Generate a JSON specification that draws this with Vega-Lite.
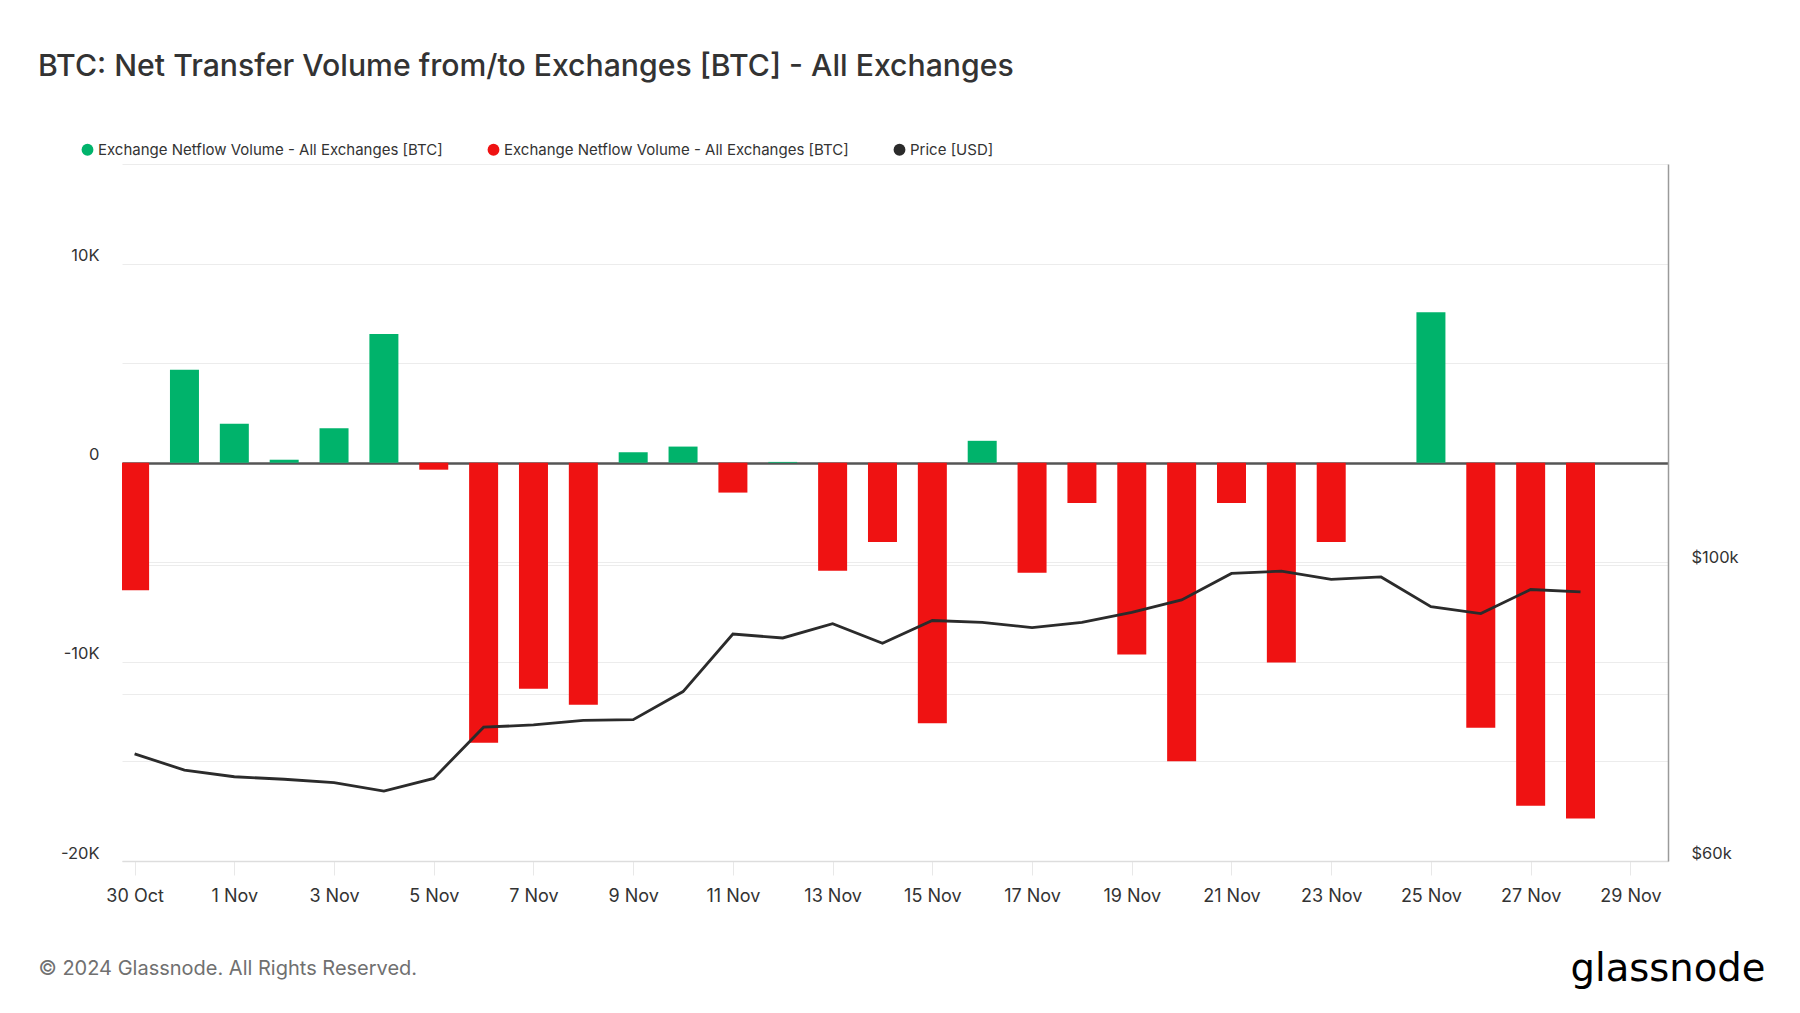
{
  "$schema": "https://vega.github.io/schema/vega-lite/v6.json",
  "width": 1546,
  "height": 697,
  "autosize": {"type": "none"},
  "padding": {"left": 122, "top": 164, "right": 132, "bottom": 152},
  "background": "white",
  "config": {"font": "Inter", "view": {"stroke": null}},
  "title": {
    "text": "BTC: Net Transfer Volume from/to Exchanges [BTC] - All Exchanges",
    "anchor": "start",
    "frame": "group",
    "fontSize": 30.2,
    "fontWeight": 500,
    "color": "#333333",
    "dx": -84,
    "offset": 60
  },
  "data": {
    "values": [
      {"date": "2024-10-30", "netflow": -6400, "price": 72200, "dir": "neg"},
      {"date": "2024-10-31", "netflow": 4670, "price": 70200, "dir": "pos"},
      {"date": "2024-11-01", "netflow": 1960, "price": 69400, "dir": "pos"},
      {"date": "2024-11-02", "netflow": 150, "price": 69100, "dir": "pos"},
      {"date": "2024-11-03", "netflow": 1730, "price": 68700, "dir": "pos"},
      {"date": "2024-11-04", "netflow": 6460, "price": 67700, "dir": "pos"},
      {"date": "2024-11-05", "netflow": -350, "price": 69200, "dir": "neg"},
      {"date": "2024-11-06", "netflow": -14060, "price": 75600, "dir": "neg"},
      {"date": "2024-11-07", "netflow": -11350, "price": 75900, "dir": "neg"},
      {"date": "2024-11-08", "netflow": -12160, "price": 76500, "dir": "neg"},
      {"date": "2024-11-09", "netflow": 520, "price": 76600, "dir": "pos"},
      {"date": "2024-11-10", "netflow": 810, "price": 80400, "dir": "pos"},
      {"date": "2024-11-11", "netflow": -1500, "price": 88800, "dir": "neg"},
      {"date": "2024-11-12", "netflow": 40, "price": 88200, "dir": "pos"},
      {"date": "2024-11-13", "netflow": -5420, "price": 90400, "dir": "neg"},
      {"date": "2024-11-14", "netflow": -3980, "price": 87400, "dir": "neg"},
      {"date": "2024-11-15", "netflow": -13080, "price": 90900, "dir": "neg"},
      {"date": "2024-11-16", "netflow": 1100, "price": 90600, "dir": "pos"},
      {"date": "2024-11-17", "netflow": -5530, "price": 89800, "dir": "neg"},
      {"date": "2024-11-18", "netflow": -2020, "price": 90600, "dir": "neg"},
      {"date": "2024-11-19", "netflow": -9630, "price": 92200, "dir": "neg"},
      {"date": "2024-11-20", "netflow": -14990, "price": 94200, "dir": "neg"},
      {"date": "2024-11-21", "netflow": -2020, "price": 98600, "dir": "neg"},
      {"date": "2024-11-22", "netflow": -10030, "price": 99000, "dir": "neg"},
      {"date": "2024-11-23", "netflow": -3980, "price": 97600, "dir": "neg"},
      {"date": "2024-11-24", "netflow": null, "price": 98000, "dir": "pos"},
      {"date": "2024-11-25", "netflow": 7550, "price": 93100, "dir": "pos"},
      {"date": "2024-11-26", "netflow": -13310, "price": 92000, "dir": "neg"},
      {"date": "2024-11-27", "netflow": -17230, "price": 95900, "dir": "neg"},
      {"date": "2024-11-28", "netflow": -17870, "price": 95500, "dir": "neg"}
    ]
  },
  "layer": [
    {
      "mark": {"type": "bar", "width": 29, "clip": true},
      "encoding": {
        "x": {
          "field": "date",
          "type": "temporal",
          "scale": {
            "type": "utc",
            "padding": 0,
            "domain": [
              {"year": 2024, "month": 10, "date": 29, "hours": 17, "minutes": 56, "utc": true},
              {"year": 2024, "month": 11, "date": 29, "hours": 18, "minutes": 7, "utc": true}
            ]
          },
          "axis": {
            "values": [
              {"year": 2024, "month": 10, "date": 30, "utc": true},
              {"year": 2024, "month": 11, "date": 1, "utc": true},
              {"year": 2024, "month": 11, "date": 3, "utc": true},
              {"year": 2024, "month": 11, "date": 5, "utc": true},
              {"year": 2024, "month": 11, "date": 7, "utc": true},
              {"year": 2024, "month": 11, "date": 9, "utc": true},
              {"year": 2024, "month": 11, "date": 11, "utc": true},
              {"year": 2024, "month": 11, "date": 13, "utc": true},
              {"year": 2024, "month": 11, "date": 15, "utc": true},
              {"year": 2024, "month": 11, "date": 17, "utc": true},
              {"year": 2024, "month": 11, "date": 19, "utc": true},
              {"year": 2024, "month": 11, "date": 21, "utc": true},
              {"year": 2024, "month": 11, "date": 23, "utc": true},
              {"year": 2024, "month": 11, "date": 25, "utc": true},
              {"year": 2024, "month": 11, "date": 27, "utc": true},
              {"year": 2024, "month": 11, "date": 29, "utc": true}
            ],
            "format": "%-d %b",
            "labelFontSize": 18,
            "labelColor": "#333333",
            "labelOverlap": false,
            "labelFlush": false,
            "labelPadding": 12,
            "grid": false,
            "domain": true,
            "domainColor": "#dddddd",
            "domainWidth": 1.5,
            "ticks": true,
            "tickColor": "#e8e8e8",
            "tickSize": 14,
            "title": "© 2024 Glassnode. All Rights Reserved.",
            "titleAnchor": "start",
            "titleAlign": "left",
            "titleBaseline": "middle",
            "titleX": -84,
            "titleY": 107,
            "titleFontSize": 20,
            "titleFontWeight": "normal",
            "titleColor": "#707070"
          }
        },
        "y": {
          "field": "netflow",
          "type": "quantitative",
          "scale": {"domain": [-20000, 15000], "nice": false, "zero": false},
          "axis": {
            "values": [-20000, -15000, -10000, -5000, 0, 5000, 10000, 15000],
            "labelExpr": "datum.value % 10000 == 0 ? (datum.value == 0 ? '0' : (datum.value < 0 ? '-' : '') + abs(datum.value) / 1000 + 'K') : ''",
            "grid": true,
            "gridColor": {"condition": {"test": "datum.value === 0", "value": "#555555"}, "value": "#ececec"},
            "gridWidth": {"condition": {"test": "datum.value === 0", "value": 2.5}, "value": 1},
            "domain": false,
            "ticks": false,
            "labelPadding": 23,
            "labelBaseline": "bottom",
            "labelFontSize": 16.5,
            "labelColor": "#333333",
            "title": null
          }
        },
        "color": {
          "field": "dir",
          "type": "nominal",
          "scale": {"domain": ["pos", "neg", "price"], "range": ["#00b36b", "#ef1212", "#2b2b2b"]},
          "legend": {
            "orient": "none",
            "legendX": -42,
            "legendY": -22,
            "direction": "horizontal",
            "title": null,
            "symbolType": "circle",
            "symbolSize": 140,
            "symbolStrokeWidth": 0,
            "labelFontSize": 15,
            "labelColor": "#333333",
            "labelOffset": 3,
            "labelLimit": 0,
            "columnPadding": 43,
            "padding": 0,
            "labelExpr": "datum.value == 'price' ? 'Price [USD]' : 'Exchange Netflow Volume - All Exchanges [BTC]'",
            "encode": {
              "symbols": {
                "update": {
                  "fill": {"scale": "color", "field": "value"},
                  "stroke": {"value": "transparent"},
                  "opacity": {"value": 1}
                }
              }
            }
          }
        }
      }
    },
    {
      "mark": {"type": "line", "strokeWidth": 2.8, "clip": true},
      "encoding": {
        "x": {"field": "date", "type": "temporal"},
        "y": {
          "field": "price",
          "type": "quantitative",
          "scale": {"type": "log", "domain": [60000, 200000], "nice": false},
          "axis": {
            "orient": "right",
            "values": [60000, 80000, 100000],
            "labelExpr": "datum.value == 60000 ? '$60k' : (datum.value == 100000 ? '$100k' : '')",
            "grid": true,
            "gridColor": "#ececec",
            "domain": true,
            "domainColor": "#9a9a9a",
            "domainWidth": 1.5,
            "ticks": false,
            "labelPadding": 23,
            "labelAlign": "left",
            "labelBaseline": "bottom",
            "labelFontSize": 16.5,
            "labelColor": "#333333",
            "title": "glassnode",
            "titleAngle": 0,
            "titleAlign": "left",
            "titleBaseline": "alphabetic",
            "titleX": -98,
            "titleY": 816,
            "titleFontSize": 38.5,
            "titleFont": "DejaVu Sans",
            "titleFontWeight": "normal",
            "titleColor": "#000000"
          }
        },
        "color": {"datum": "price", "type": "nominal"}
      }
    }
  ],
  "resolve": {"scale": {"y": "independent"}}
}
